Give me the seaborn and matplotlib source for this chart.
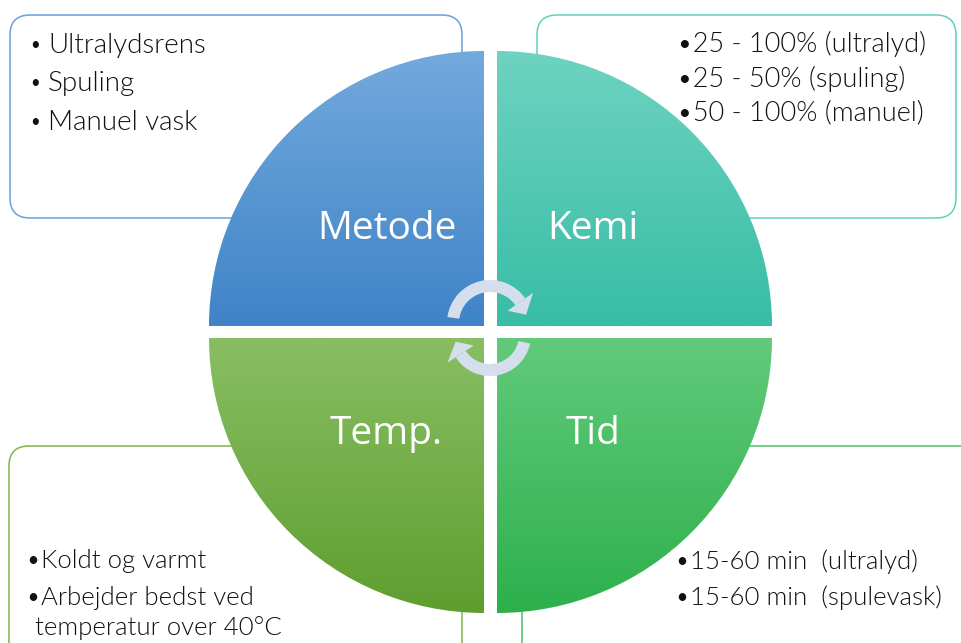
import numpy as np
import seaborn as sns
import matplotlib.pyplot as plt
from matplotlib.patches import Wedge, FancyBboxPatch, Polygon
from matplotlib.colors import LinearSegmentedColormap

# quadrant labels and the bullet text belonging to each
labels = ["Metode", "Kemi", "Temp.", "Tid"]
metode_items = ["Ultralydsrens", "Spuling", "Manuel vask"]
kemi_items = ["25 - 100% (ultralyd)", "25 - 50% (spuling)", "50 - 100% (manuel)"]
temp_items = ["Koldt og varmt", "Arbejder bedst ved\ntemperatur over 40°C"]
tid_items = ["15-60 min  (ultralyd)", "15-60 min  (spulevask)"]

top_colors = ["#73a9dd", "#6ed3c1", "#89be63", "#62ca7b"]
bottom_colors = ["#3f84c8", "#38bda6", "#5e9e2f", "#2db04c"]
edge_colors = ["#6aa0d8", "#5fd0bd", "#7cb64b", "#4cc06a"]

sns.set_style("white")
plt.rcParams["font.family"] = ["Lato", "DejaVu Sans"]

W, H = 962, 643
fig = plt.figure(figsize=(W / 100, H / 100), dpi=100)
ax = fig.add_axes([0, 0, 1, 1])

R = 275
# inner corner of each quarter disc and its angle span (data coords, y down)
corners = [(484, 326), (497, 326), (484, 338), (497, 338)]
spans = [(180, 270), (270, 360), (90, 180), (0, 90)]

# rounded text boxes behind the disc
boxes = [(10, 15, 452, 203), (537, 15, 419, 203), (9, 446, 453, 240), (522, 446, 470, 240)]
for (x, y, w, h), ec in zip(boxes, edge_colors):
    ax.add_patch(FancyBboxPatch((x, y), w, h, boxstyle="round,pad=0,rounding_size=20",
                                fc="white", ec=ec, lw=1.1, zorder=1))

grad = np.linspace(0, 1, 256).reshape(-1, 1)
for i, lab in enumerate(labels):
    cx, cy = corners[i]
    t1, t2 = spans[i]
    wedge = Wedge((cx, cy), R, t1, t2, fc="none", ec="none", zorder=2)
    ax.add_patch(wedge)
    x0 = cx - R if t1 in (90, 180) else cx
    y0 = cy - R if t1 in (180, 270) else cy
    cmap = LinearSegmentedColormap.from_list(lab, [top_colors[i], bottom_colors[i]])
    im = ax.imshow(grad, cmap=cmap, aspect="auto", origin="upper",
                   extent=(x0, x0 + R, y0 + R, y0), zorder=2)
    im.set_clip_path(wedge)

label_pos = [(387, 229), (593, 229), (386, 434), (593, 434)]
for lab, (lx, ly) in zip(labels, label_pos):
    ax.text(lx, ly, lab, color="white", fontsize=28, ha="center", va="center",
            family=["Open Sans", "DejaVu Sans"], zorder=5)

# circular arrows in the middle
arrow_col = "#d5deec"


def arc_arrow(center, r_out, width, th1, th2, head_span=22):
    ax.add_patch(Wedge(center, r_out, th1, th2, width=width, fc=arrow_col, ec="none", zorder=4))
    rm = r_out - width / 2
    phi = np.deg2rad(th2)
    u = np.array([np.cos(phi), np.sin(phi)])
    c = np.array(center)
    tip_phi = np.deg2rad(th2 + head_span)
    tip = c + rm * np.array([np.cos(tip_phi), np.sin(tip_phi)])
    hw = width * 1.3
    pts = [c + (rm - hw) * u, c + (rm + hw) * u, tip]
    ax.add_patch(Polygon(pts, closed=True, fc=arrow_col, ec="none", zorder=4))


arc_arrow((490, 323), 43, 12, 188, 325)
arc_arrow((490, 335), 41, 12, 12, 147)

txt = dict(color="#111111", fontweight=300, zorder=6, va="center", ha="left")

# bullet text
for k, item in enumerate(metode_items):
    y = 45 + k * 38.5
    ax.text(35, y, "•", fontsize=12, ha="center", va="center", color="#111111", zorder=6)
    ax.text(48, y, item, fontsize=20, **txt)

for k, item in enumerate(kemi_items):
    ax.text(677, 44 + k * 34.5, "•" + item, fontsize=19.5, **txt)

ax.text(26, 561, "•" + temp_items[0], fontsize=18.5, **txt)
ax.text(26, 598, "•" + temp_items[1].split("\n")[0], fontsize=18.5, **txt)
ax.text(35, 628, temp_items[1].split("\n")[1], fontsize=18.5, **txt)

for k, item in enumerate(tid_items):
    ax.text(675, 562 + k * 35.5, "•" + item, fontsize=18.5, **txt)

ax.set_xlim(0, W)
ax.set_ylim(H, 0)
ax.axis("off")
fig.savefig("out.png", dpi=100)
